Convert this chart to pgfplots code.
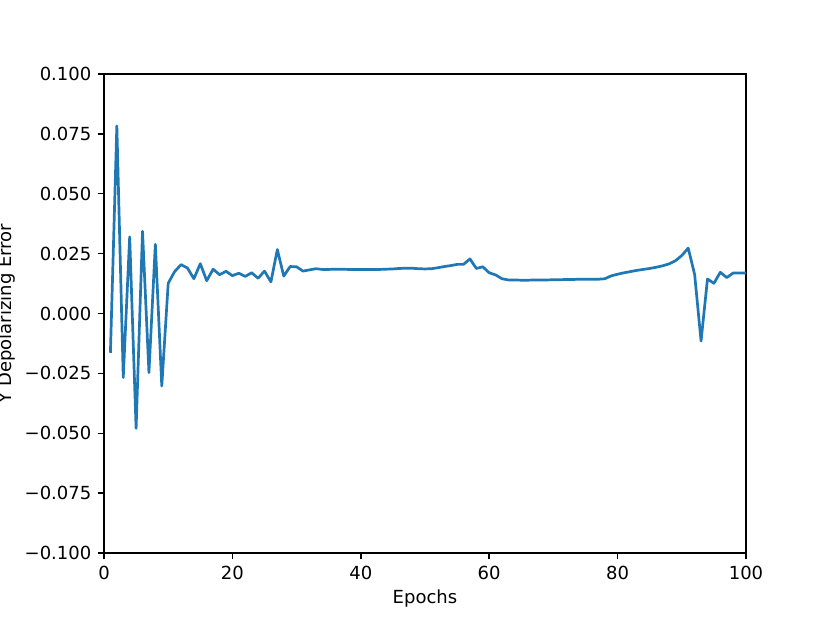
\documentclass[border=0pt]{standalone}
\usepackage{fontspec}
\setmainfont{DejaVu Sans}
\usepackage{pgfplots}
\pgfplotsset{compat=1.18}
\definecolor{mplblue}{HTML}{1F77B4}

\pgfplotstableread{
epoch err
1 -0.0164
2 0.0783
3 -0.0267
4 0.0320
5 -0.0480
6 0.0343
7 -0.0247
8 0.0289
9 -0.0303
10 0.0126
11 0.0175
12 0.0204
13 0.0190
14 0.0145
15 0.0208
16 0.0137
17 0.0185
18 0.0162
19 0.0176
20 0.0158
21 0.0168
22 0.0155
23 0.0170
24 0.0147
25 0.0177
26 0.0132
27 0.0267
28 0.0156
29 0.0196
30 0.0195
31 0.0177
32 0.0182
33 0.0187
34 0.0184
35 0.0184
36 0.0185
37 0.0185
38 0.0184
39 0.0184
40 0.0184
41 0.0184
42 0.0184
43 0.0184
44 0.0185
45 0.0186
46 0.0188
47 0.0189
48 0.0189
49 0.0187
50 0.0186
51 0.0187
52 0.0191
53 0.0196
54 0.0200
55 0.0205
56 0.0205
57 0.0228
58 0.0188
59 0.0195
60 0.0170
61 0.0161
62 0.0145
63 0.0140
64 0.0140
65 0.0139
66 0.0139
67 0.0140
68 0.0140
69 0.0140
70 0.0141
71 0.0141
72 0.0142
73 0.0142
74 0.0143
75 0.0143
76 0.0143
77 0.0143
78 0.0145
79 0.0157
80 0.0164
81 0.0170
82 0.0175
83 0.0180
84 0.0184
85 0.0188
86 0.0193
87 0.0199
88 0.0207
89 0.0220
90 0.0242
91 0.0273
92 0.0163
93 -0.0115
94 0.0144
95 0.0126
96 0.0172
97 0.0150
98 0.0169
99 0.0169
100 0.0169
}\errtable

\begin{document}
\begin{tikzpicture}
% page size = 6.4in x 4.8in, axes box as in matplotlib
\path[use as bounding box] (-57.74pt,-38.86pt) rectangle (403.07pt,307.01pt);
\begin{axis}[
  at={(0pt,0pt)}, anchor=south west,
  scale only axis, width=356.43pt, height=265.93pt,
  xmin=0, xmax=100, ymin=-0.1, ymax=0.1,
  xtick={0,20,40,60,80,100},
  xticklabels={0,20,40,60,80,100},
  ytick={-0.1,-0.075,-0.05,-0.025,0,0.025,0.05,0.075,0.1},
  yticklabels={−0.100,−0.075,−0.050,−0.025,0.000,0.025,0.050,0.075,0.100},
  tick align=outside, tick pos=left,
  major tick length=3.5pt,
  every tick/.style={black, line width=0.8pt},
  axis line style={line width=0.8pt},
  tick label style={font=\fontsize{10}{12}\selectfont},
  label style={font=\fontsize{10}{12}\selectfont},
  xlabel={Epochs}, ylabel={Y Depolarizing Error},
  every axis x label/.style={at={(axis description cs:0.5,-0.096)}, anchor=center},
  every axis y label/.style={at={(axis description cs:-0.152,0.5)}, anchor=center, rotate=90},
]
\addplot[mplblue, line width=1.5pt, line join=round, no markers] table[x=epoch, y=err] {\errtable};
\end{axis}
\end{tikzpicture}
\end{document}
